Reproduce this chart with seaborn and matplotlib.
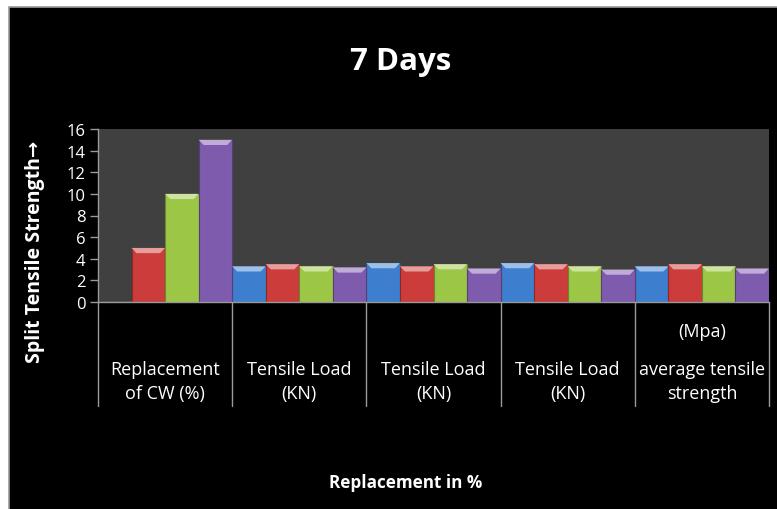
import matplotlib
matplotlib.use("Agg")
import matplotlib.pyplot as plt
from matplotlib.patches import Rectangle, Polygon
from matplotlib.colors import to_rgb
import seaborn as sns
import pandas as pd

# Category labels along the x axis
categories = ["Replacement\nof CW (%)", "Tensile Load\n(KN)", "Tensile Load\n(KN)",
              "Tensile Load\n(KN)", "average tensile\nstrength"]
category_ids = ["C1", "C2", "C3", "C4", "C5"]

# Four series per category
series_names = ["Mix A", "Mix B", "Mix C", "Mix D"]
mix_a = [0, 3.3, 3.6, 3.6, 3.3]
mix_b = [5, 3.5, 3.3, 3.5, 3.5]
mix_c = [10, 3.3, 3.5, 3.3, 3.3]
mix_d = [15, 3.2, 3.1, 3.0, 3.1]

y_ticks = [0, 2, 4, 6, 8, 10, 12, 14, 16]

colors = ["#3d7fce", "#cc3c3b", "#9cc645", "#7f5bae"]

rows = []
for name, vals in zip(series_names, [mix_a, mix_b, mix_c, mix_d]):
    for cid, v in zip(category_ids, vals):
        rows.append({"category": cid, "series": name, "value": v})
df = pd.DataFrame(rows)

sns.set_theme(style="white")
plt.rcParams["font.family"] = ["Open Sans", "DejaVu Sans"]

fig = plt.figure(figsize=(7.77, 5.10), dpi=100)
fig.patch.set_facecolor("white")
# black chart canvas with a thin grey frame
fig.patches.append(Rectangle((8.5 / 777, -0.01), 1.02, (510 - 7.5) / 510 + 0.01,
                             transform=fig.transFigure, facecolor="black",
                             edgecolor="#9a9a9a", linewidth=1.2, zorder=-10))

ax = fig.add_axes([98 / 777, 207 / 510, 671 / 777, 173 / 510])
ax.set_zorder(1)
ax.set_facecolor("#404040")

sns.barplot(data=df, x="category", y="value", hue="series", order=category_ids,
            hue_order=series_names, palette=colors, width=1.0, gap=0,
            saturation=1, legend=False, ax=ax, linewidth=0.8)

# bevelled look: darker outline and a lighter strip across each bar top
for patch in list(ax.patches):
    x0, w, h = patch.get_x(), patch.get_width(), patch.get_height()
    if h <= 0:
        continue
    base = to_rgb(patch.get_facecolor())
    dark = tuple(c * 0.68 for c in base)
    light = tuple(min(1, c + (1 - c) * 0.5) for c in base)
    patch.set_edgecolor(dark)
    dx, dy = w * 0.15, 0.48
    ax.add_patch(Polygon([(x0, h), (x0 + w, h), (x0 + w - dx, h - dy), (x0 + dx, h - dy)],
                         closed=True, facecolor=light, edgecolor="none", zorder=3))

ax.set_xlim(-0.5, 4.5)
ax.set_ylim(0, 16)
ax.set_yticks(y_ticks)
ax.set_yticklabels([str(t) for t in y_ticks])
ax.set_xticks(range(len(categories)))
ax.set_xticklabels(categories, linespacing=1.4)

ax.tick_params(axis="y", colors="#9a9a9a", labelcolor="white", labelsize=12,
               length=6, width=1, direction="out", pad=3, left=True)
ax.tick_params(axis="x", length=0, labelcolor="white", labelsize=13, pad=42)

for side in ["top", "right"]:
    ax.spines[side].set_visible(False)
for side in ["left", "bottom"]:
    ax.spines[side].set_color("#9a9a9a")
    ax.spines[side].set_linewidth(1)

# separators between categories below the axis
sep_tr = ax.get_xaxis_transform()
for xb in [-0.5, 0.5, 1.5, 2.5, 3.5, 4.5]:
    ax.plot([xb, xb], [0, -0.6], color="#9a9a9a", lw=1, transform=sep_tr, clip_on=False)

ax.text(4, -0.165, "(Mpa)", transform=sep_tr, ha="center", va="center",
        color="white", fontsize=13)

fig.text(35 / 777, (510 - 252) / 510, "Split Tensile Strength\u2192",
         rotation=90, ha="center", va="center", color="white", fontsize=14,
         fontweight="bold")
fig.text(406 / 777, (510 - 483) / 510, "Replacement in %", ha="center", va="center",
         color="white", fontsize=12.3, fontweight="bold")
fig.text(401 / 777, (510 - 62) / 510, "7 Days", ha="center", va="center",
         color="white", fontsize=22.5, fontweight="bold")

ax.set_xlabel("")
ax.set_ylabel("")

fig.savefig("out.png", dpi=100, facecolor=fig.get_facecolor())
